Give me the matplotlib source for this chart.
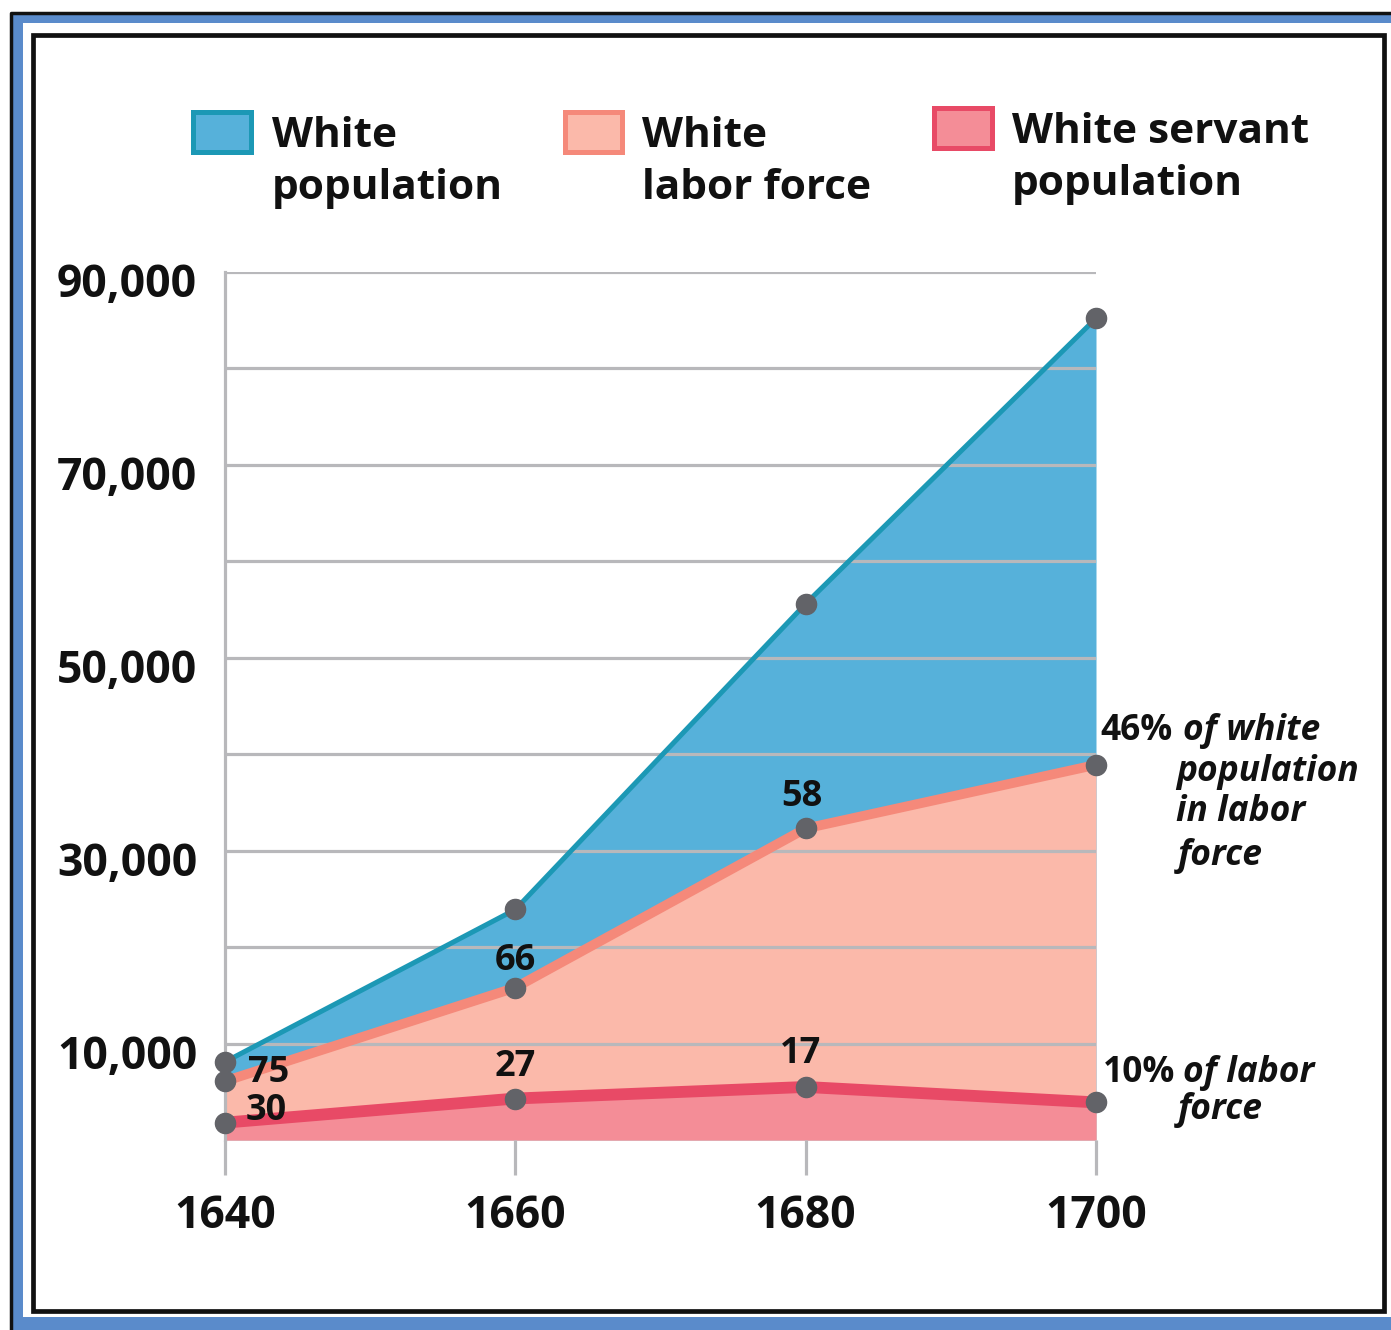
import matplotlib
matplotlib.use("Agg")
import matplotlib.pyplot as plt
import matplotlib.transforms as mtransforms
from matplotlib.patches import Rectangle
from matplotlib.lines import Line2D

plt.rcParams['font.family'] = ['Open Sans', 'DejaVu Sans']

# ---- data ----
years = [1640, 1660, 1680, 1700]
white_pop = [8100, 23900, 55600, 85200]
labor_force = [6100, 15800, 32300, 38900]
servant_pop = [1800, 4300, 5500, 3900]
labor_pct = ['75', '66', '58']
servant_pct = ['30', '27', '17']
ytick_vals = [10000, 30000, 50000, 70000, 90000]
ytick_labels = ['10,000', '30,000', '50,000', '70,000', '90,000']
ygrid_minor = [20000, 40000, 60000, 80000]
legend_labels = ['White\npopulation', 'White\nlabor force', 'White servant\npopulation']

W, H = 1391, 1330
fig = plt.figure(figsize=(W / 100, H / 100), dpi=100)

def fx(x):
    return x / W

def fy(y):
    return 1 - y / H

# ---- frame ----
blue_frame = '#5a8bcb'
fig.add_artist(Rectangle((fx(12), 0.0), 1.0 - fx(12), fy(14) - 0.0, transform=fig.transFigure,
                         facecolor=blue_frame, edgecolor='none', zorder=-10))
fig.add_artist(Line2D([fx(11), fx(11), 1.0], [0.0, fy(13), fy(13)], transform=fig.transFigure,
                      color='#111111', linewidth=2.5, zorder=-9.5))
fig.add_artist(Rectangle((fx(23), fy(1317)), 1.0 - fx(23), fy(23) - fy(1317), transform=fig.transFigure,
                         facecolor='white', edgecolor='none', zorder=-9))
fig.add_artist(Rectangle((fx(32.5), fy(1311)), fx(1383.5) - fx(32.5), fy(34.5) - fy(1311),
                         transform=fig.transFigure, facecolor='none', edgecolor='#111111',
                         linewidth=3.4, zorder=-8))

# ---- colors ----
blue_fill, blue_line = '#56b1da', '#1c98b5'
lab_fill, lab_line = '#fbb9aa', '#f5897a'
ser_fill, ser_line = '#f48d97', '#e84a66'
grid_c = '#b8b8bb'
dot_c = '#626368'

ax = fig.add_axes([fx(225), fy(1140), fx(1096) - fx(225), fy(272) - fy(1140)])
ax.set_zorder(5)
ax.set_xlim(1640, 1700)
ax.set_ylim(0, 90000)
ax.patch.set_visible(False)

ax.fill_between(years, 0, white_pop, color=blue_fill, linewidth=0, zorder=1)
ax.fill_between(years, 0, labor_force, color=lab_fill, linewidth=0, zorder=1.1)
ax.fill_between(years, 0, servant_pop, color=ser_fill, linewidth=0, zorder=1.2)

ax.plot(years, white_pop, color=blue_line, lw=3.6, zorder=4, clip_on=False, solid_capstyle='butt')
ax.plot(years, labor_force, color=lab_line, lw=7, zorder=4, clip_on=False, solid_capstyle='butt')
ax.plot(years, servant_pop, color=ser_line, lw=8.5, zorder=4, clip_on=False, solid_capstyle='butt')
for series in (white_pop, labor_force, servant_pop):
    ax.plot(years, series, linestyle='none', marker='o', markersize=14.5,
            color=dot_c, zorder=5, clip_on=False)

# grid
ax.set_axisbelow(False)
ax.set_yticks(ytick_vals)
ax.set_yticklabels(ytick_labels)
ax.set_yticks(ygrid_minor, minor=True)
ax.grid(True, axis='y', which='both', color=grid_c, linewidth=2.3)
ax.tick_params(axis='y', which='both', length=0, pad=20, labelsize=32)
shift = mtransforms.ScaledTranslation(0, -8 / 100, fig.dpi_scale_trans)
for lab in ax.get_yticklabels():
    lab.set_fontweight('bold')
    lab.set_color('#111111')
    lab.set_transform(lab.get_transform() + shift)

ax.set_xticks(years)
ax.set_xticklabels([str(y) for y in years])
ax.tick_params(axis='x', length=25, width=2.3, color=grid_c, pad=14, labelsize=32, direction='out')
for lab in ax.get_xticklabels():
    lab.set_fontweight('bold')
    lab.set_color('#111111')

for s in ['top', 'right', 'bottom']:
    ax.spines[s].set_visible(False)
ax.spines['left'].set_color(grid_c)
ax.spines['left'].set_linewidth(2.3)
ax.spines['left'].set_zorder(2.5)

# ---- point labels ----
txt_kw = dict(textcoords='offset pixels', fontsize=26, fontweight='bold', color='#111111',
              va='baseline', zorder=7, annotation_clip=False)
lab_offsets = [(23, -1, 'left'), (0, 18, 'center'), (-4, 22, 'center')]
for i, (dx, dy, ha) in enumerate(lab_offsets):
    ax.annotate(labor_pct[i], (years[i], labor_force[i]), xytext=(dx, dy), ha=ha, **txt_kw)
ser_offsets = [(21, 3, 'left'), (0, 23, 'center'), (-5, 24, 'center')]
for i, (dx, dy, ha) in enumerate(ser_offsets):
    ax.annotate(servant_pct[i], (years[i], servant_pop[i]), xytext=(dx, dy), ha=ha, **txt_kw)

# right-side annotations
r_kw = dict(textcoords='offset pixels', fontsize=25.5, fontweight='bold', color='#111111',
            va='baseline', ha='left', zorder=7, annotation_clip=False)
p_lab = (years[-1], labor_force[-1])
ax.annotate('46%', p_lab, xytext=(4, 25), **r_kw)
ax.annotate('of white', p_lab, xytext=(87, 25), style='italic', **r_kw)
ax.annotate('population', p_lab, xytext=(80, -16), style='italic', **r_kw)
ax.annotate('in labor', p_lab, xytext=(80, -56), style='italic', **r_kw)
ax.annotate('force', p_lab, xytext=(82, -100), style='italic', **r_kw)
p_ser = (years[-1], servant_pop[-1])
ax.annotate('10%', p_ser, xytext=(7, 20), **r_kw)
ax.annotate('of labor', p_ser, xytext=(87, 20), style='italic', **r_kw)
ax.annotate('force', p_ser, xytext=(82, -17), style='italic', **r_kw)

# ---- legend ----
leg = [
    (190, 110, 254, 154, blue_fill, blue_line, 272, 147),
    (562, 110, 624, 154, lab_fill, lab_line, 642, 147),
    (931, 106, 994, 150, ser_fill, ser_line, 1012, 143),
]
for (x0, y0, x1, y1, fc, ec, tx, ty), label in zip(leg, legend_labels):
    fig.add_artist(Rectangle((fx(x0 + 2.5), fy(y1 - 2.5)), fx(x1 - x0 - 5), fy(y0) - fy(y1 - 5),
                             transform=fig.transFigure, facecolor=fc, edgecolor=ec, linewidth=3.6))
    l1, l2 = label.split('\n')
    fig.text(fx(tx), fy(ty), l1, fontsize=30.5, fontweight='bold', color='#111111', va='baseline')
    fig.text(fx(tx), fy(ty + 52), l2, fontsize=30.5, fontweight='bold', color='#111111', va='baseline')

fig.savefig('out.png', dpi=100)
